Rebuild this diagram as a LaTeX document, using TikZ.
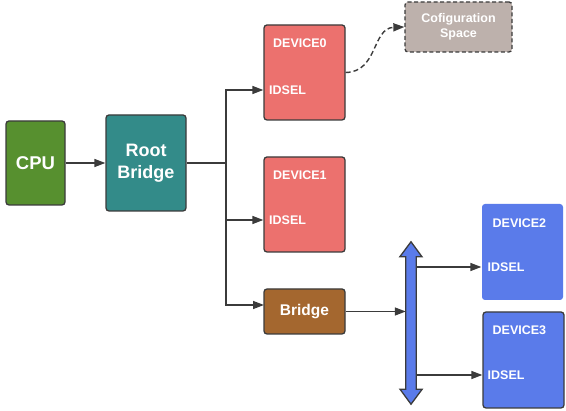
\documentclass[tikz,border=0pt]{standalone}
\usepackage{fontspec}
\setmainfont{Liberation Sans}
\usetikzlibrary{arrows.meta,calc}
\definecolor{cpug}{HTML}{57902F}
\definecolor{rbt}{HTML}{338B89}
\definecolor{devr}{HTML}{EC716E}
\definecolor{brb}{HTML}{A4672F}
\definecolor{cfgc}{HTML}{BDB1AC}
\definecolor{devb}{HTML}{5A7BEA}
\definecolor{edgec}{HTML}{3B3B3B}
\begin{document}
\begin{tikzpicture}[x=1pt,y=-1pt,
  box/.style={draw=edgec, line width=1.3pt, rounded corners=3pt, inner sep=0pt, text=white, font=\bfseries, align=center},
  lbl/.style={inner sep=0pt, text=white, font=\bfseries\fontsize{12.5}{14}\selectfont, anchor=west},
  wire/.style={draw=edgec, line width=1.4pt},
  conn/.style={wire, -{Triangle[length=11pt,width=8pt]}}]
\useasboundingbox (0,0) rectangle (566,411);
% boxes
\node[box, fill=cpug, minimum width=59pt, minimum height=84pt, font=\bfseries\fontsize{18.5}{22}\selectfont] (cpu) at (35.5,163) {CPU};
\node[box, fill=rbt, minimum width=80pt, minimum height=96pt, font=\bfseries\fontsize{18}{22}\selectfont] (rb) at (146,163) {Root\\Bridge};
\node[box, fill=devr, minimum width=81pt, minimum height=95pt] (d0) at (304.5,72.5) {};
\node[box, fill=devr, minimum width=81pt, minimum height=95pt] (d1) at (304.5,204.5) {};
\node[box, fill=brb, minimum width=81pt, minimum height=45pt, font=\bfseries\fontsize{15.5}{18}\selectfont] (br) at (304.5,311.5) {Bridge};
\node[box, fill=cfgc, dash pattern=on 4pt off 2.5pt, minimum width=107pt, minimum height=50pt, font=\bfseries\fontsize{12.5}{14.5}\selectfont] (cfg) at (458.5,27) {Cofiguration\\Space};
\node[box, draw=none, fill=devb, minimum width=81pt, minimum height=96pt] (d2) at (522.5,252) {};
\node[box, fill=devb, minimum width=81pt, minimum height=96pt] (d3) at (523.5,360) {};
% labels
\node[lbl] (t0) at (273,43) {DEVICE0};
\node[lbl] (id0) at (269,90) {IDSEL};
\node[lbl] (t1) at (273,175) {DEVICE1};
\node[lbl] (id1) at (269,220) {IDSEL};
\node[lbl] (t2) at (492.5,223) {DEVICE2};
\node[lbl] (id2) at (487.5,267) {IDSEL};
\node[lbl] (t3) at (492.5,330) {DEVICE3};
\node[lbl] (id3) at (487.5,375) {IDSEL};
% bus shaft
\node[inner sep=0pt, minimum width=10pt, minimum height=132pt] (bus) at (411,323) {};
\coordinate (j) at (226,163);
\coordinate (brin) at (264,305);
% connectors
\draw[conn] (cpu.east) -- (rb.west);
\draw[wire] (rb.east) -- (j);
\draw[conn] (j) |- (d0.west |- id0.center);
\draw[conn] (j) |- (d1.west |- id1.center);
\draw[conn] (j) |- (brin);
\draw[conn, dash pattern=on 5pt off 3pt] (d0.east) .. controls (378,72) and (372,28) .. (cfg.west);
\draw[conn] (br.east) -- (br.east -| bus.west);
\draw[conn] (bus.east |- id2.center) -- (d2.west |- id2.center);
\draw[conn] (bus.east |- id3.center) -- (d3.west |- id3.center);
% bus double arrow
\draw[draw=edgec, fill=devb, line width=1.3pt, line join=miter]
  ($(bus.north)+(0,-15)$) -- ++(11,15) -- (bus.north east) -- (bus.south east) -- ++(6,0) -- ($(bus.south)+(0,15)$)
  -- ++(-11,-15) -- (bus.south west) -- (bus.north west) -- ++(-6,0) -- cycle;
\end{tikzpicture}
\end{document}
